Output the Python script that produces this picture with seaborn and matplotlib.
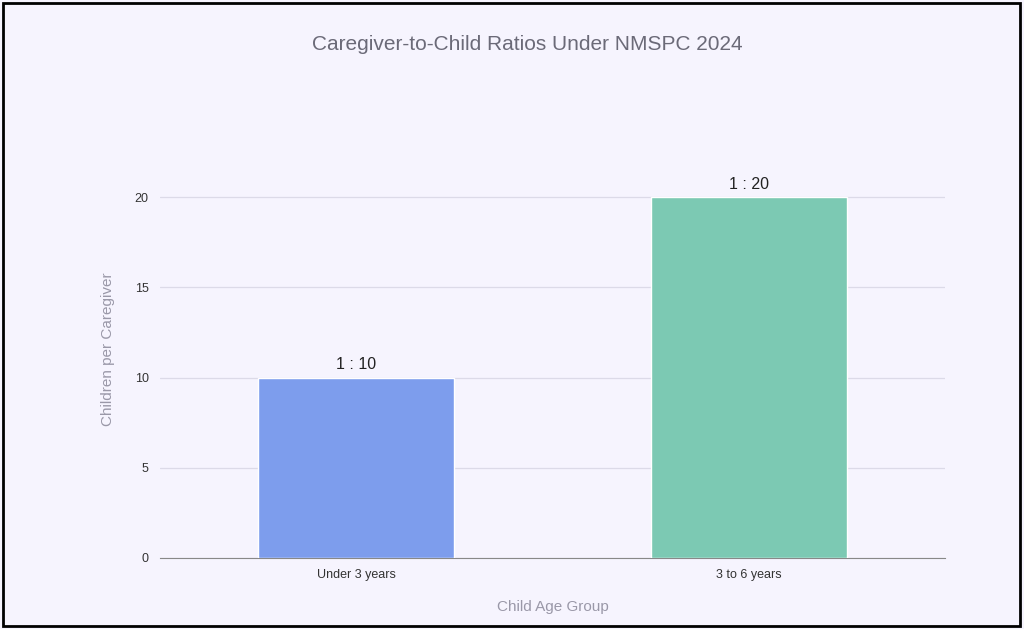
import matplotlib
matplotlib.use("Agg")
import matplotlib.pyplot as plt
import seaborn as sns
import pandas as pd
from matplotlib.patches import Rectangle

age_groups = ["Under 3 years", "3 to 6 years"]
children_per_caregiver = [10, 20]
ratio_labels = ["1 : 10", "1 : 20"]
bar_colors = ["#6B95FF", "#6FD6B8"]

BG = "#F6F4FE"

sns.set_style("white")
plt.rcParams['font.family'] = ['Liberation Sans', 'DejaVu Sans']

fig = plt.figure(figsize=(10.24, 6.29), dpi=100, facecolor=BG)
ax = fig.add_axes([0.156, 0.113, 0.767, 0.665], facecolor=BG)

df = pd.DataFrame({"group": age_groups, "value": children_per_caregiver})
sns.barplot(data=df, x="group", y="value", hue="group", palette=bar_colors,
            width=0.5, legend=False, ax=ax, zorder=3)

for i, (v, lab) in enumerate(zip(children_per_caregiver, ratio_labels)):
    ax.text(i, v + 0.3, lab, ha="center", va="bottom", fontsize=11.5, color="#222222")

ax.set_xlim(-0.5, 1.5)
ax.set_ylim(0, 23.2)
ax.set_yticks([0, 5, 10, 15, 20])
ax.yaxis.grid(True, color="#DCDAE8", linewidth=0.9, zorder=0)
ax.tick_params(axis="both", length=0, labelsize=9, colors="#333333", pad=8)
for s in ["top", "right", "left"]:
    ax.spines[s].set_visible(False)
ax.spines["bottom"].set_color("#888888")

ax.set_xlabel("Child Age Group", fontsize=11, color="#9a98a8", labelpad=14)
ax.set_ylabel("Children per Caregiver", fontsize=11, color="#9a98a8", labelpad=14)

fig.text(0.515, 0.93, "Caregiver-to-Child Ratios Under NMSPC 2024",
         ha="center", va="center", fontsize=15, color="#6b6a78")

fig.patches.append(Rectangle((0.003, 0.004), 0.993, 0.992, transform=fig.transFigure,
                             fill=False, edgecolor="black", linewidth=2))

fig.savefig("out.png", dpi=100, facecolor=BG)
